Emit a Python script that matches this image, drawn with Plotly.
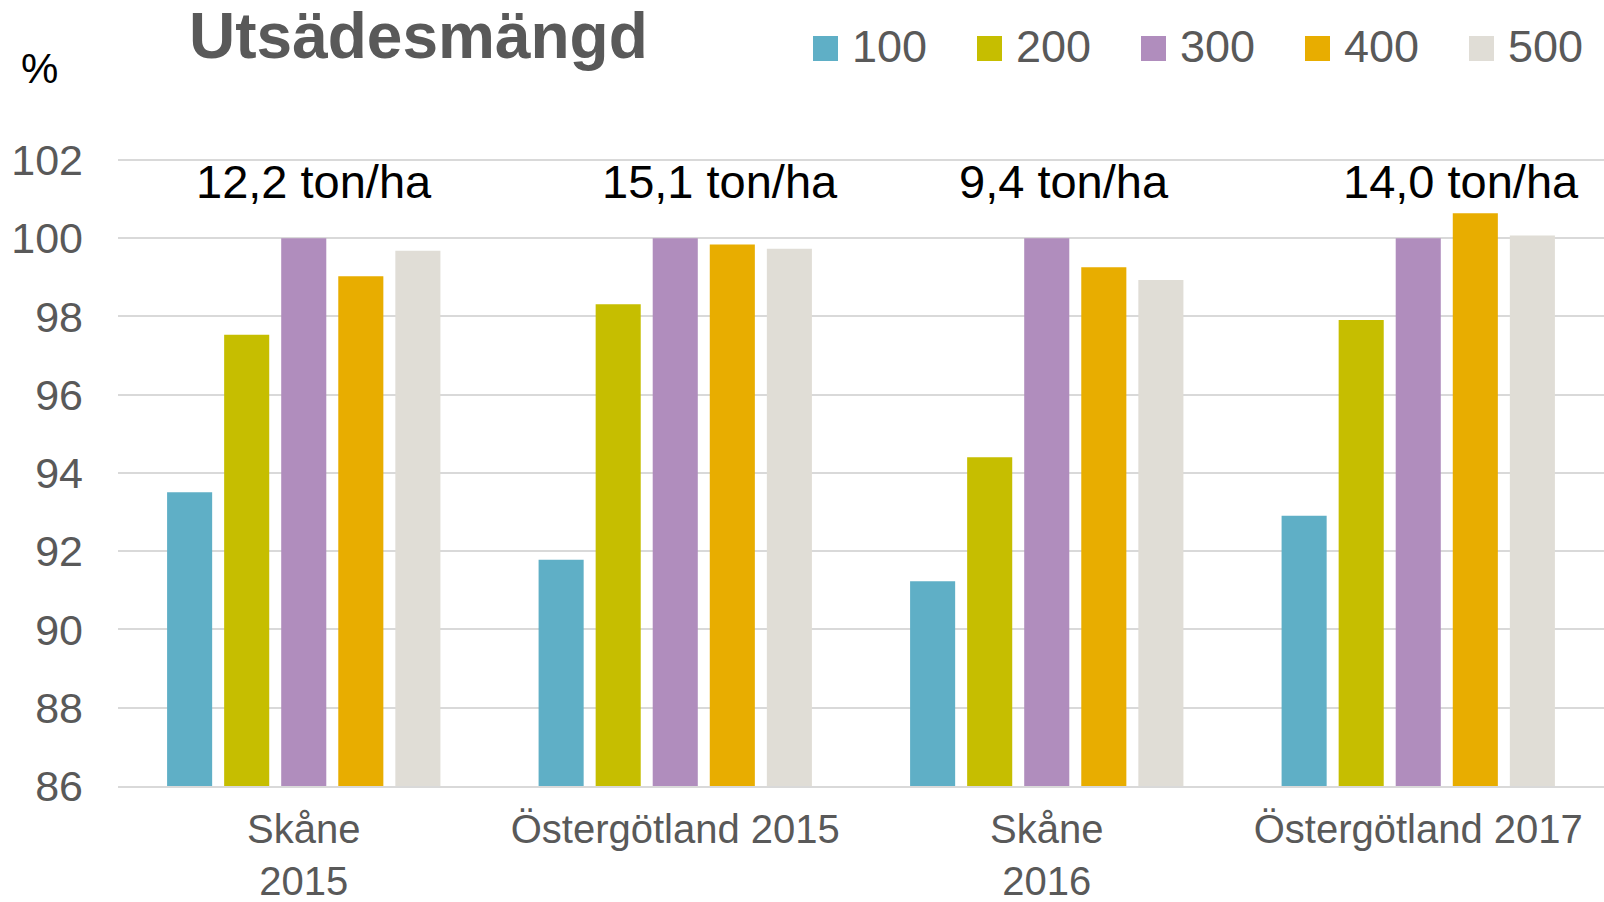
import plotly.graph_objects as go

# data
categories = ["Skåne<br>2015", "Östergötland 2015", "Skåne<br>2016", "Östergötland 2017"]
series_names = ["100", "200", "300", "400", "500"]
s100 = [93.51, 91.78, 91.23, 92.91]
s200 = [97.53, 98.31, 94.40, 97.91]
s300 = [100.0, 100.0, 100.0, 100.0]
s400 = [99.03, 99.84, 99.26, 100.64]
s500 = [99.68, 99.73, 98.93, 100.07]
yield_labels = ["12,2 ton/ha", "15,1 ton/ha", "9,4 ton/ha", "14,0 ton/ha"]
y_ticks = [86, 88, 90, 92, 94, 96, 98, 100, 102]

series = [s100, s200, s300, s400, s500]
colors = ["#5fafc6", "#c6be00", "#b08dbd", "#e8ad00", "#e0ddd6"]

W, H = 1604, 902
L, R, T, B = 118, 0, 158, 116
FONT = "Liberation Sans"
GREY = "#595959"


def px_x(x):
    return (x - L) / (W - L - R)


def px_y(y):
    return (H - B - y) / (H - T - B)


fig = go.Figure()
for name, vals, col in zip(series_names, series, colors):
    fig.add_trace(go.Bar(x=categories, y=vals, name=name,
                         marker=dict(color=col, line=dict(width=0)),
                         showlegend=False))

# yield labels above each group (slightly right of centre as in the original)
label_shift = [10, 45, 17, 43]
for cat, txt, dx in zip(categories, yield_labels, label_shift):
    fig.add_annotation(x=cat, y=101.44, xref="x", yref="y", text=txt,
                       showarrow=False, xshift=dx, yanchor="middle",
                       font=dict(family=FONT, size=47, color="black"))

# hand made legend: big squares + labels
leg_x0, leg_pitch, sq = 813, 164, 25
for i, (name, col) in enumerate(zip(series_names, colors)):
    x0 = leg_x0 + i * leg_pitch
    fig.add_shape(type="rect", xref="paper", yref="paper",
                  x0=px_x(x0), x1=px_x(x0 + sq), y0=px_y(61), y1=px_y(36),
                  fillcolor=col, line=dict(width=0))
    fig.add_annotation(x=px_x(x0 + sq + 12), y=px_y(46), xref="paper", yref="paper",
                       text=name, showarrow=False, xanchor="left", yanchor="middle",
                       font=dict(family=FONT, size=45, color=GREY))

fig.add_annotation(x=px_x(19), y=px_y(69), xref="paper", yref="paper", text="%",
                   showarrow=False, xanchor="left", yanchor="middle",
                   font=dict(family=FONT, size=42, color="black"))

fig.update_layout(
    width=W, height=H,
    margin=dict(l=L, r=R, t=T, b=B, autoexpand=False),
    paper_bgcolor="white", plot_bgcolor="white",
    barmode="group", bargap=0.232, bargroupgap=0.21,
    title=dict(text="<b>Utsädesmängd</b>", xref="container", yref="container",
               x=189 / W, xanchor="left", y=1 - 36 / H, yanchor="middle",
               font=dict(family=FONT, size=64, color=GREY)),
    font=dict(family=FONT, color=GREY),
)
fig.update_yaxes(range=[86, 102.05], tickvals=y_ticks, showgrid=True,
                 gridcolor="#d9d9d9", gridwidth=2, zeroline=False,
                 automargin=False, ticks="", ticklabelstandoff=34,
                 tickfont=dict(family=FONT, size=43, color=GREY))
fig.update_xaxes(showline=True, linecolor="#d9d9d9", linewidth=2,
                 automargin=False, ticks="", ticklabelstandoff=7,
                 tickfont=dict(family=FONT, size=40, color=GREY))

# drop the default page margin so the figure sits at the window's corner
fig.write_html("out.html", config={"displayModeBar": False},
               post_script="document.body.style.margin='0';")
